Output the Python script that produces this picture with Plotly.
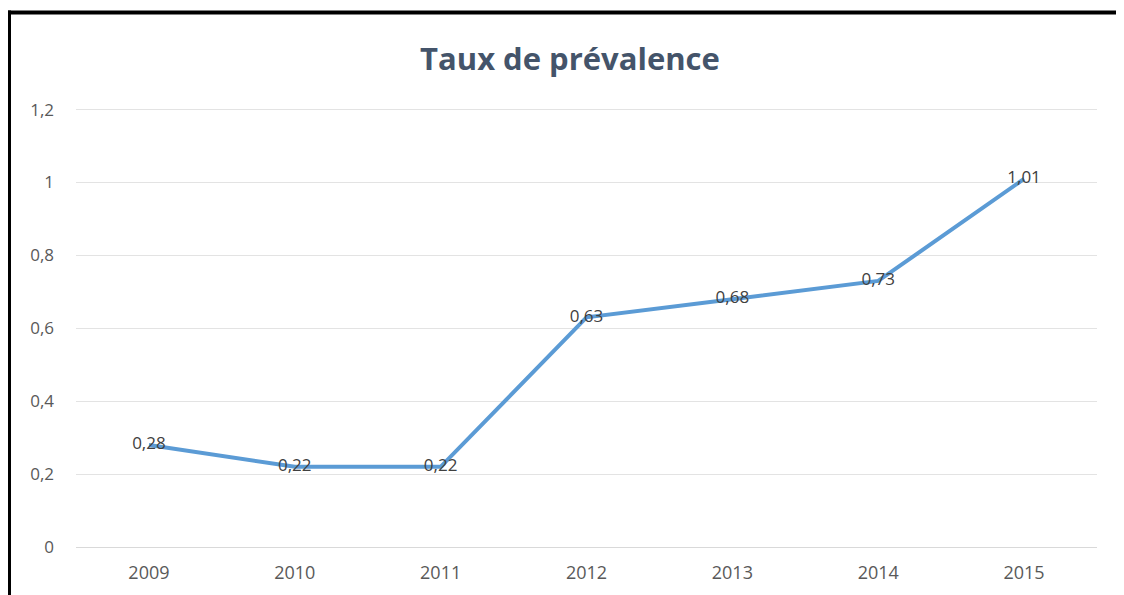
import plotly.graph_objects as go

years = ["2009", "2010", "2011", "2012", "2013", "2014", "2015"]
prevalence = [0.28, 0.22, 0.22, 0.63, 0.68, 0.73, 1.01]
y_ticks = [0, 0.2, 0.4, 0.6, 0.8, 1.0, 1.2]

# page body has an 8px margin, so figure coords = screen coords - 8
OFF = 8
W, H = 1124, 595
YMAX = 1.21
L, R, B = 76 - OFF, 27 + OFF, 48 + OFF
ph = (547 - 110) / 1.2 * YMAX
T = H - B - ph
pw = W - L - R

def px(x):
    return (x - OFF - L) / pw

def py(y):
    return (H - B - (y - OFF)) / ph

fig = go.Figure()
fig.add_trace(go.Scatter(
    x=years, y=prevalence, mode="lines+text",
    line=dict(color="#5B9BD5", width=4),
    texttemplate="%{y:.2f}", textposition="middle center",
    textfont=dict(family="Open Sans, sans-serif", size=17, color="#404040"),
    hoverinfo="skip", showlegend=False,
))

fig.update_layout(
    width=W, height=H,
    margin=dict(l=L, r=R, t=T, b=B),
    paper_bgcolor="white", plot_bgcolor="white",
    separators=", ",
    title=dict(text="<b>Taux de prévalence</b>", x=0.5, xanchor="center",
               y=1 - (59 - OFF) / H, yanchor="middle",
               font=dict(family="Open Sans, sans-serif", size=31, color="#44546A")),
    xaxis=dict(type="category", range=[-0.5, 6.5], showgrid=False, showline=True, linecolor="#D9D9D9",
               linewidth=1, ticks="", tickfont=dict(family="Open Sans, sans-serif", size=18, color="#595959"),
               ticklabelstandoff=9),
    yaxis=dict(range=[0, YMAX], tickvals=y_ticks, tickformat=".1~f", showgrid=True,
               gridcolor="#E3E3E3", gridwidth=1, zeroline=False, showline=False,
               tickfont=dict(family="Open Sans, sans-serif", size=17, color="#595959"),
               ticklabelstandoff=21),
    shapes=[
        dict(type="line", xref="paper", yref="paper", x0=px(7), x1=px(1140), y0=py(13), y1=py(13),
             line=dict(color="black", width=4), layer="above"),
        dict(type="line", xref="paper", yref="paper", x0=px(9), x1=px(9), y0=py(11), y1=py(620),
             line=dict(color="black", width=4), layer="above"),
    ],
)

fig.write_html("out.html")
